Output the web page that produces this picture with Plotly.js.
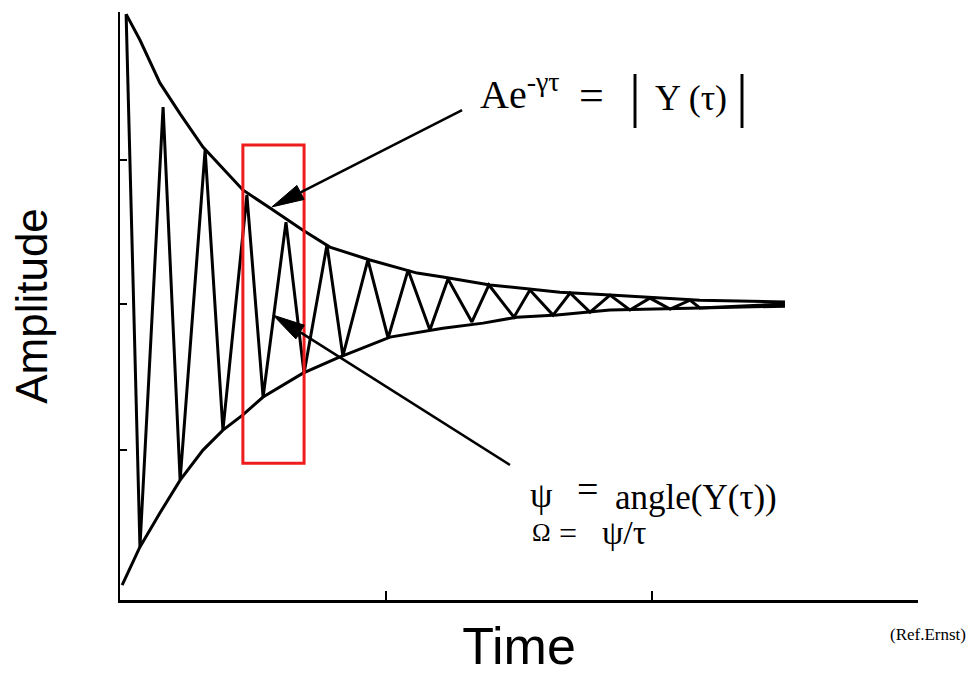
<!DOCTYPE html>
<html>
<head>
<meta charset="utf-8">
<script src="https://cdn.plot.ly/plotly-3.0.1.min.js"></script>
<style>
  html, body { margin: 0; padding: 0; background: #ffffff; }
  #chart { width: 972px; height: 675px; }
</style>
</head>
<body>
<div id="chart"></div>
<script>
// Damped free-induction signal with its decay envelope (arbitrary units).

// Upper envelope  A·e^(-γτ)
const envTopTime = [0.023, 0.075, 0.150, 0.226, 0.312, 0.462, 0.564, 0.688, 0.789, 0.940, 1.117, 1.214, 1.391, 1.492, 1.654, 1.842, 2.180, 2.500];
const envTopAmp  = [0.973, 0.886, 0.742, 0.638, 0.527, 0.383, 0.322, 0.248, 0.191, 0.148, 0.104, 0.091, 0.064, 0.054, 0.040, 0.030, 0.013, 0.007];

// Lower envelope  -A·e^(-γτ)
const envBotTime = [0.008, 0.038, 0.075, 0.150, 0.226, 0.312, 0.387, 0.462, 0.538, 0.688, 0.816, 1.015, 1.214, 1.365, 1.492, 1.643, 1.842, 2.180, 2.500];
const envBotAmp  = [-0.943, -0.883, -0.815, -0.701, -0.591, -0.490, -0.423, -0.372, -0.312, -0.232, -0.181, -0.111, -0.081, -0.064, -0.044, -0.037, -0.020, -0.013, -0.007];

// Oscillating signal: successive maxima and minima
const sigTime = [0.023, 0.075, 0.162, 0.226, 0.320, 0.387, 0.477, 0.538, 0.624, 0.692,
                 0.778, 0.838, 0.932, 1.008, 1.083, 1.165, 1.233, 1.323, 1.387, 1.481,
                 1.541, 1.628, 1.692, 1.767, 1.842, 1.917, 1.992, 2.068, 2.143, 2.180, 2.500];
const sigAmp  = [0.973, -0.815, 0.661, -0.591, 0.517, -0.423, 0.366, -0.312, 0.275, -0.232,
                 0.198, -0.174, 0.148, -0.114, 0.114, -0.087, 0.084, -0.060, 0.064, -0.044,
                 0.047, -0.037, 0.037, -0.027, 0.030, -0.020, 0.020, -0.017, 0.013, -0.013, 0.000];

// Axis ticks
const timeTicks = [1, 2, 3];
const ampTicks  = [-0.49, 0, 0.483];

const ink = '#000000';
const red = '#ee1c1c';
const serif = 'Liberation Serif, Times New Roman, serif';
const sans  = 'Liberation Sans, Arial, sans-serif';

const traces = [
  { x: envTopTime, y: envTopAmp, mode: 'lines', line: { color: ink, width: 3 }, hoverinfo: 'skip' },
  { x: envBotTime, y: envBotAmp, mode: 'lines', line: { color: ink, width: 3 }, hoverinfo: 'skip' },
  { x: sigTime, y: sigAmp, mode: 'lines', line: { color: ink, width: 3 }, hoverinfo: 'skip' }
];

function label(text, x, y, size, anchor) {
  return { text: text, x: x, y: y, xref: 'x', yref: 'y', showarrow: false,
           xanchor: anchor || 'left', yanchor: 'middle',
           font: { family: serif, size: size, color: ink } };
}

const annotations = [
  label('Ae<sup>-γτ</sup>', 1.346, 0.712, 40),
  label('=', 1.774, 0.700, 44, 'center'),
  label('|', 1.936, 0.701, 60, 'center'),
  label('Y (τ)', 2.004, 0.691, 36),
  label('|', 2.338, 0.701, 60, 'center'),
  label('ψ', 1.583, -0.640, 36, 'center'),
  label('=', 1.756, -0.622, 38, 'center'),
  label('angle(Y(τ))', 1.853, -0.648, 35),
  label('Ω', 1.583, -0.768, 25, 'center'),
  label('=', 1.684, -0.768, 32, 'center'),
  label('ψ/τ', 1.805, -0.768, 34),
  { text: '(Ref.Ernst)', xref: 'paper', yref: 'paper', x: 1.0627, y: -0.058,
    xanchor: 'right', yanchor: 'middle', showarrow: false,
    font: { family: serif, size: 17, color: ink } }
];

const shapes = [
  // highlighted window
  { type: 'rect', xref: 'x', yref: 'y', x0: 0.462, x1: 0.692, y0: -0.534, y1: 0.534,
    line: { color: red, width: 3 } },
  // pointer to the envelope
  { type: 'line', xref: 'x', yref: 'y', x0: 1.286, y0: 0.651, x1: 0.679, y1: 0.375,
    line: { color: ink, width: 2.5 } },
  { type: 'path', xref: 'x', yref: 'y', path: 'M0.571,0.326 L0.692,0.351 L0.665,0.398 Z',
    fillcolor: ink, line: { color: ink, width: 1 } },
  // pointer to the phase
  { type: 'line', xref: 'x', yref: 'y', x0: 1.466, y0: -0.540, x1: 0.677, y1: -0.094,
    line: { color: ink, width: 2.5 } },
  { type: 'path', xref: 'x', yref: 'y', path: 'M0.575,-0.037 L0.661,-0.117 L0.693,-0.071 Z',
    fillcolor: ink, line: { color: ink, width: 1 } }
];

const layout = {
  width: 972, height: 675,
  margin: { l: 120, r: 54, t: 12, b: 75, pad: 0 },
  paper_bgcolor: '#ffffff', plot_bgcolor: '#ffffff',
  showlegend: false,
  xaxis: {
    range: [0, 3], showgrid: false, zeroline: false,
    showline: true, linecolor: ink, linewidth: 2.5,
    ticks: 'inside', tickvals: timeTicks, ticklen: 9, tickwidth: 2, tickcolor: ink,
    showticklabels: false,
    title: { text: 'Time', font: { family: sans, size: 52, color: ink }, standoff: 30 }
  },
  yaxis: {
    range: [-0.993, 0.980], showgrid: false, zeroline: false,
    showline: true, linecolor: ink, linewidth: 2.5,
    ticks: 'inside', tickvals: ampTicks, ticklen: 7, tickwidth: 2, tickcolor: ink,
    showticklabels: false,
    title: { text: 'Amplitude', font: { family: sans, size: 44, color: ink }, standoff: 56 }
  },
  annotations: annotations,
  shapes: shapes
};

Plotly.newPlot('chart', traces, layout, { displayModeBar: false, staticPlot: true });
</script>
</body>
</html>
